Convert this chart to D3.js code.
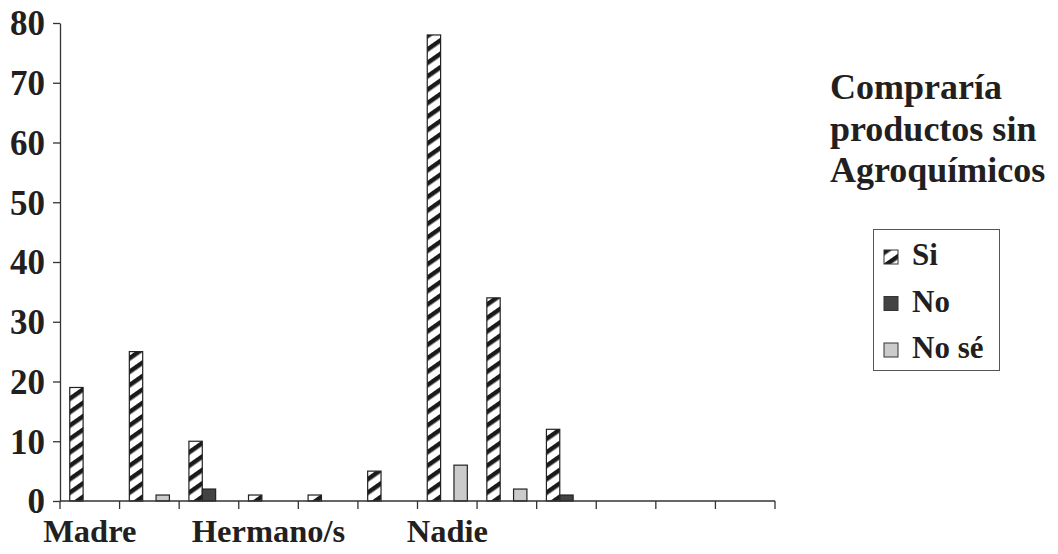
<!DOCTYPE html>
<html>
<head>
<meta charset="utf-8">
<script src="https://cdn.jsdelivr.net/npm/d3@7"></script>
<style>
  body { margin: 0; background: #fff; }
  svg { display: block; font-family: "Liberation Serif", "Times New Roman", serif; font-weight: bold; }
</style>
</head>
<body>
<svg id="chart" width="1058" height="554"></svg>
<script>
// category labels (Excel only showed every third one)
const categories = ['Madre', '', '', 'Hermano/s', '', '', 'Nadie', '', '', '', '', ''];
const series = ['Si', 'No', 'No sé'];
const siValues = [19, 25, 10, 1, 1, 5, 78, 34, 12, 0, 0, 0];
const noValues = [0, 0, 2, 0, 0, 0, 0, 0, 1, 0, 0, 0];
const noSeValues = [0, 1, 0, 0, 0, 0, 6, 2, 0, 0, 0, 0];
const yTicks = [0, 10, 20, 30, 40, 50, 60, 70, 80];
const titleLines = ['Compraría', 'productos sin', 'Agroquímicos'];

const svg = d3.select('#chart'),
    ink = '#231f20',
    fills = { 'Si': 'url(#hatch)', 'No': '#434343', 'No sé': '#cbcbcb' };

const values = { 'Si': siValues, 'No': noValues, 'No sé': noSeValues };

// diagonal hatch used by the "Si" bars
const pat = svg.append('defs').append('pattern')
    .attr('id', 'hatch')
    .attr('patternUnits', 'userSpaceOnUse')
    .attr('width', 12)
    .attr('height', 11)
    .attr('patternTransform', 'rotate(-35)');
pat.append('rect').attr('width', 12).attr('height', 11).attr('fill', '#fff');
pat.append('rect').attr('width', 12).attr('height', 4.5).attr('fill', '#1a1a1a');

const x = d3.scaleBand()
    .domain(d3.range(categories.length))
    .range([60, 775]);

const xs = d3.scaleBand()
    .domain(series)
    .range([0, x.bandwidth()])
    .paddingOuter(0.73);

const y = d3.scaleLinear()
    .domain([0, 80])
    .range([501, 23]);

// y axis
const yAxis = svg.append('g')
    .attr('transform', 'translate(60,0)')
    .call(d3.axisLeft(y).tickValues(yTicks).tickSize(7).tickSizeOuter(0).tickPadding(8));
yAxis.selectAll('path, line').attr('stroke', '#333').attr('stroke-width', 1.3);
yAxis.selectAll('text')
    .attr('font-family', '"Liberation Serif", serif')
    .attr('font-weight', 'bold')
    .attr('font-size', 35)
    .attr('dy', '0.34em')
    .attr('fill', ink);

// bars
const groups = svg.append('g').selectAll('g')
    .data(categories.map((c, i) => i))
    .join('g')
    .attr('transform', i => `translate(${x(i)},0)`);

groups.selectAll('rect')
    .data(i => series.map(s => ({ s, v: values[s][i] })))
    .join('rect')
    .attr('x', d => xs(d.s))
    .attr('width', xs.bandwidth())
    .attr('y', d => y(d.v))
    .attr('height', d => y(0) - y(d.v))
    .attr('fill', d => fills[d.s])
    .attr('stroke', '#222')
    .attr('stroke-width', 1.2);

// x axis line + boundary ticks
const xg = svg.append('g');
xg.append('line')
    .attr('x1', x.range()[0]).attr('x2', x.range()[1])
    .attr('y1', y(0)).attr('y2', y(0))
    .attr('stroke', '#333').attr('stroke-width', 1.5);
xg.selectAll('.tick')
    .data(d3.range(categories.length + 1))
    .join('line')
    .attr('class', 'tick')
    .attr('x1', i => x.range()[0] + i * x.step())
    .attr('x2', i => x.range()[0] + i * x.step())
    .attr('y1', y(0)).attr('y2', y(0) + 8)
    .attr('stroke', '#333').attr('stroke-width', 1.3);
xg.selectAll('.lab')
    .data(categories.map((c, i) => ({ c, i })).filter(d => d.c))
    .join('text')
    .attr('class', 'lab')
    .attr('x', d => x(d.i) + x.bandwidth() / 2)
    .attr('y', 542)
    .attr('text-anchor', 'middle')
    .attr('font-size', 32.5)
    .attr('fill', ink)
    .text(d => d.c);

// title
svg.append('text')
    .attr('x', 830)
    .attr('y', 99)
    .attr('font-size', 36)
    .attr('fill', ink)
    .selectAll('tspan')
    .data(titleLines)
    .join('tspan')
    .attr('x', 830)
    .attr('dy', (d, i) => i ? 41.5 : 0)
    .text(d => d);

// legend
const legend = svg.append('g');
legend.append('rect')
    .attr('x', 873.5).attr('y', 229.5)
    .attr('width', 126).attr('height', 141)
    .attr('fill', 'none').attr('stroke', '#555').attr('stroke-width', 1);

const items = legend.selectAll('.item')
    .data(series)
    .join('g')
    .attr('class', 'item')
    .attr('transform', (d, i) => `translate(884,${250 + i * 46.5})`);
items.append('rect')
    .attr('width', 14).attr('height', 14)
    .attr('fill', d => fills[d])
    .attr('stroke', '#333').attr('stroke-width', 1);
items.append('text')
    .attr('x', 28).attr('y', 15)
    .attr('font-size', 31)
    .attr('fill', ink)
    .text(d => d);
</script>
</body>
</html>
